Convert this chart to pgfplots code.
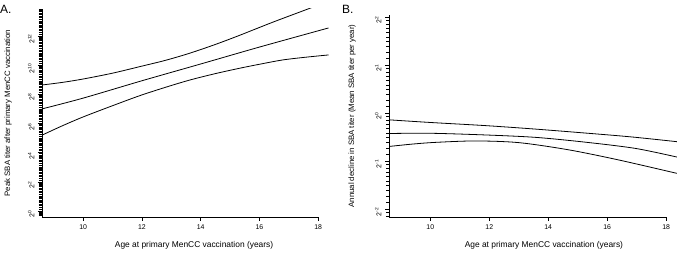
\documentclass[border=0pt]{standalone}
\usepackage{fontspec}
\setmainfont{Liberation Sans}
\usepackage{pgfplots}
\pgfplotsset{compat=1.18}
\newcommand\fracs{0,0.1375,0.2630,0.3785,0.4854,0.5850,0.6781,0.7655,0.8480,0.9260}
\xdef\minA{-1}
\foreach \n in {-1,...,13}{\foreach \f in \fracs{\pgfmathparse{\n+\f}\xdef\minA{\minA,\pgfmathresult}}}
\xdef\minB{-3}
\foreach \n in {-3,...,2}{\foreach \f in \fracs{\pgfmathparse{\n+\f}\xdef\minB{\minB,\pgfmathresult}}}
\pgfplotsset{
 rstyle/.style={
  scale only axis, anchor=south west,
  axis x line*=bottom, axis y line*=left,
  axis line style={-, line width=0.6pt},
  x axis line style={draw=none},
  tick align=outside, major tick length=4pt, minor tick length=3pt,
  every tick/.style={black, line width=0.5pt},
  xmin=8.6, xmax=18.4, xtick={10,12,14,16,18},
  tick label style={font=\fontsize{6.9}{8}\selectfont},
  /pgf/number format/assume math mode=true,
  yticklabel={\pgfmathtruncatemacro\e{\tick}2\textsuperscript{\e}},
  yticklabel style={rotate=90, anchor=south, xshift=-3pt},
  cycle list={{black},{black},{black}},
  every axis plot/.append style={black, line width=0.8pt, smooth, no marks},
  clip mode=individual,
 }
}
\begin{document}
\begin{tikzpicture}[x=1pt,y=1pt]
\useasboundingbox (0,0) rectangle (688,256);
\node[anchor=north west, inner sep=0pt, font=\fontsize{12}{14}\selectfont] at (0,251) {A.};
\node[anchor=north west, inner sep=0pt, font=\fontsize{12}{14}\selectfont] at (342,251) {B.};
\begin{axis}[rstyle, at={(42pt,39pt)}, width=288pt, height=208pt,
  ymin=-0.41, ymax=13.85, ytick={0,2,...,12}, minor ytick/.expanded={\minA},
  xlabel={Age at primary MenCC vaccination (years)},
  ylabel={Peak SBA titer after primary MenCC vaccination},
  every axis x label/.style={at={(axis description cs:0.528,0)}, yshift=-28pt, anchor=center, font=\fontsize{8.4}{10}\selectfont},
  every axis y label/.style={at={(axis description cs:0,0.5)}, xshift=-34pt, rotate=90, anchor=center, font=\fontsize{7.8}{10}\selectfont},
]
\addplot coordinates {(8.6,8.64) (9.3,8.82) (10,9.05) (11,9.45) (11.93,9.90) (12.8,10.33) (13.63,10.82) (14.5,11.42) (15.33,12.05) (16.46,12.95) (17.65,13.85) (17.8,13.97)};
\addplot coordinates {(8.6,7.0) (10,7.74) (12,8.93) (14,10.08) (16,11.24) (18.35,12.55)};
\addplot coordinates {(8.6,5.2) (9.3,5.85) (10,6.45) (11,7.22) (11.93,7.91) (12.8,8.48) (13.63,8.98) (14.5,9.42) (15.33,9.79) (16.1,10.1) (16.8,10.36) (17.6,10.55) (18.35,10.70)};
\draw[line width=0.6pt] (axis cs:8.6,-0.41) -- (axis cs:18,-0.41);
\end{axis}
\begin{axis}[rstyle, at={(389pt,39pt)}, width=289pt, height=202pt,
  ymin=-2.17, ymax=2.04, ytick={-2,...,2}, minor ytick/.expanded={\minB},
  xlabel={Age at primary MenCC vaccination (years)},
  ylabel={Annual decline in SBA titer (Mean SBA titer per year)},
  every axis x label/.style={at={(axis description cs:0.536,0)}, yshift=-28pt, anchor=center, font=\fontsize{8.4}{10}\selectfont},
  every axis y label/.style={at={(axis description cs:0,0.5)}, xshift=-37pt, rotate=90, anchor=center, font=\fontsize{7.8}{10}\selectfont},
]
\addplot coordinates {(8.6,-0.145) (10,-0.20) (11.86,-0.265) (13.5,-0.335) (15.25,-0.42) (16.8,-0.50) (18.36,-0.60)};
\addplot coordinates {(8.6,-0.43) (10,-0.425) (11.86,-0.46) (13.56,-0.51) (15.25,-0.61) (16.95,-0.74) (18.36,-0.92)};
\addplot coordinates {(8.6,-0.70) (9.4,-0.65) (10.17,-0.615) (11.53,-0.585) (13.0,-0.62) (14.69,-0.77) (16.38,-0.98) (18.36,-1.26)};
\draw[line width=0.6pt] (axis cs:8.6,-2.17) -- (axis cs:18,-2.17);
\end{axis}
\end{tikzpicture}
\end{document}
